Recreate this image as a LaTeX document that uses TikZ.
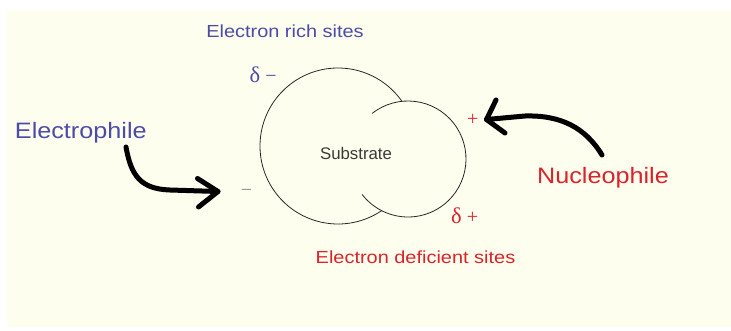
\documentclass[tikz,border=0pt]{standalone}
\usepackage{fontspec}
\setmainfont{Liberation Sans}
\newfontfamily\deltafont{Liberation Serif}
\definecolor{cream}{RGB}{254,254,238}
\definecolor{eblue}{RGB}{76,76,168}
\definecolor{ered}{RGB}{218,36,44}
\definecolor{subgray}{RGB}{58,58,58}
\definecolor{outlinecol}{RGB}{40,40,40}
\definecolor{dashgray}{RGB}{140,140,140}
\newcommand{\bigdelta}{{\fontsize{22.5}{24}\selectfont δ}}
\begin{document}
\begin{tikzpicture}[x=1pt,y=-1pt,
  lbl/.style={inner sep=0pt, anchor=base},
  smalltext/.style={font=\fontsize{17.5}{20}\selectfont},
  bigtext/.style={font=\fontsize{22.3}{26}\selectfont},
  signtext/.style={inner sep=0pt, font=\deltafont\fontsize{20}{24}\selectfont},
  outline/.style={draw=outlinecol, line width=0.8pt},
  fatarrow/.style={draw=black, line width=5pt, line cap=round, line join=round}]
\useasboundingbox (0,0) rectangle (731,330);
\fill[cream] (7,10) rectangle (731,327);

% substrate outline
\coordinate (bigc) at (338,146);
\coordinate (smallc) at (408,159);
\draw[outline] (bigc) ++(-34.9:78) arc[start angle=-34.9, end angle=-304, radius=78];
\draw[outline] (smallc) ++(-128.3:58) arc[start angle=-128.3, end angle=142.3, radius=58];

% labels
\node[lbl, smalltext, text=eblue] (rich) at (285,37.3) {\scalebox{1.14}[1]{Electron rich sites}};
\node[lbl, smalltext, text=ered] (deficient) at (415.5,263.3) {\scalebox{1.14}[1]{Electron deficient sites}};
\node[lbl, bigtext, text=eblue] (electrophile) at (80.8,138.3) {\scalebox{1.13}[1]{Electrophile}};
\node[lbl, bigtext, text=ered] (nucleophile) at (603,183.3) {\scalebox{1.13}[1]{Nucleophile}};
\node[lbl, text=subgray, font=\fontsize{16.8}{20}\selectfont] (substrate) at (356,159.3) {Substrate};

% charges
\node[signtext, anchor=base west, text=eblue] (dminus) at (249.5,82) {\bigdelta\ −};
\node[signtext, anchor=base west, text=ered] (dplus) at (451,223) {\bigdelta\ +};
\node[signtext, anchor=base, text=ered] (plus) at (472.7,125.7) {+};
\node[signtext, anchor=base, text=dashgray] (minus) at (246.5,196.5) {−};

% electrophile arrow
\coordinate (eStart) at (126,147);
\coordinate (eTip) at (218,191.5);
\coordinate (eArmA) at (197.5,178.5);
\coordinate (eArmB) at (198.5,207);
\draw[fatarrow] (eStart) .. controls (131,175) and (140,189) .. (170,190) -- (eTip);
\draw[fatarrow] (eArmA) -- (eTip) -- (eArmB);

% nucleophile arrow
\coordinate (nStart) at (602,155);
\coordinate (nTip) at (486.5,119.5);
\coordinate (nArmA) at (496,100);
\coordinate (nArmB) at (505,133);
\draw[fatarrow] (nStart) .. controls (585,127) and (560,115) .. (525,116) -- (nTip);
\draw[fatarrow] (nArmA) -- (nTip) -- (nArmB);
\end{tikzpicture}
\end{document}
